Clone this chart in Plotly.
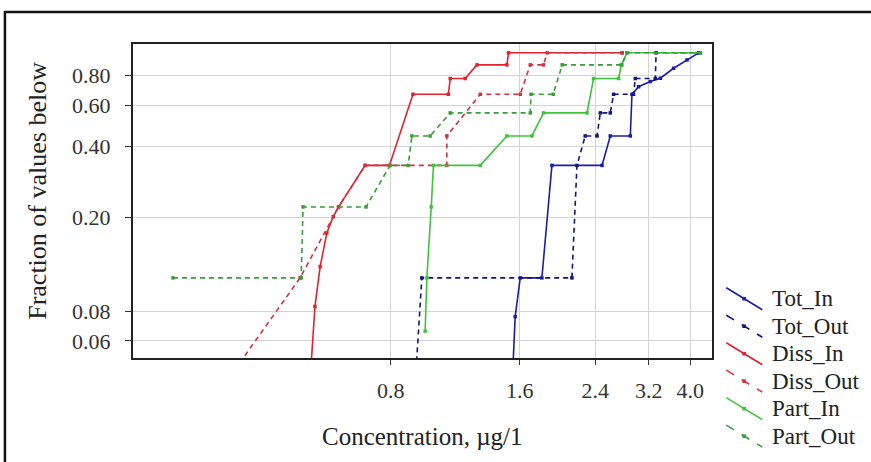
import plotly.graph_objects as go

# ---- data ----
tot_in_x = [1.541, 1.561, 1.604, 1.802, 1.902, 2.49, 2.603, 2.899, 2.925, 3.031, 3.228, 3.406, 3.659, 3.933, 4.186]
tot_in_y = [0.045, 0.076, 0.111, 0.111, 0.333, 0.333, 0.444, 0.444, 0.667, 0.718, 0.755, 0.78, 0.86, 0.933, 1.0]

tot_out_x = [0.916, 0.945, 2.118, 2.176, 2.275, 2.424, 2.467, 2.603, 2.65, 2.95, 2.978, 3.316, 3.33, 4.186]
tot_out_y = [0.045, 0.111, 0.111, 0.333, 0.444, 0.444, 0.556, 0.556, 0.667, 0.667, 0.778, 0.778, 1.0, 1.0]

diss_in_x = [0.520, 0.532, 0.547, 0.567, 0.587, 0.604, 0.697, 0.794, 0.901, 1.090, 1.101, 1.193, 1.271, 1.493, 1.506, 2.776]
diss_in_y = [0.045, 0.084, 0.124, 0.172, 0.202, 0.222, 0.333, 0.333, 0.667, 0.667, 0.778, 0.778, 0.889, 0.889, 1.0, 1.0]

diss_out_x = [0.345, 0.491, 0.604, 0.697, 1.081, 1.081, 1.294, 1.604, 1.693, 1.818, 1.854, 2.776]
diss_out_y = [0.045, 0.111, 0.222, 0.333, 0.333, 0.444, 0.667, 0.667, 0.889, 0.889, 1.0, 1.0]

part_in_x = [0.962, 0.971, 0.994, 1.006, 1.294, 1.493, 1.708, 1.818, 2.297, 2.379, 2.722, 2.762, 2.847, 4.225]
part_in_y = [0.066, 0.111, 0.222, 0.333, 0.333, 0.444, 0.444, 0.556, 0.556, 0.778, 0.778, 0.889, 1.0, 1.0]

part_out_x = [0.248, 0.494, 0.499, 0.700, 0.797, 0.878, 0.896, 0.988, 1.101, 1.693, 1.70, 1.915, 2.010, 2.77, 2.847, 4.225]
part_out_y = [0.111, 0.111, 0.222, 0.222, 0.333, 0.333, 0.444, 0.444, 0.556, 0.556, 0.667, 0.667, 0.889, 0.889, 1.0, 1.0]

x_ticks = [0.8, 1.6, 2.4, 3.2, 4.0]
x_tick_text = ["0.8", "1.6", "2.4", "3.2", "4.0"]
y_ticks = [0.06, 0.08, 0.2, 0.4, 0.6, 0.8]
y_tick_text = ["0.06", "0.08", "0.20", "0.40", "0.60", "0.80"]

series_names = ["Tot_In", "Tot_Out", "Diss_In", "Diss_Out", "Part_In", "Part_Out"]
series_x = [tot_in_x, tot_out_x, diss_in_x, diss_out_x, part_in_x, part_out_x]
series_y = [tot_in_y, tot_out_y, diss_in_y, diss_out_y, part_in_y, part_out_y]
series_color = ["#1c1ca8", "#14147a", "#e2232f", "#cf3344", "#3fc23f", "#3a9c3a"]
series_dash = ["solid", "5px,4px", "solid", "5px,4px", "solid", "5px,4px"]

FONT = "Liberation Serif, Times New Roman, serif"

fig = go.Figure()
for n, xs, ys, c, d in zip(series_names, series_x, series_y, series_color, series_dash):
    fig.add_trace(go.Scatter(
        x=xs, y=ys, name=n, mode="lines+markers",
        line=dict(color=c, width=1.6, dash=d),
        marker=dict(symbol="square", size=3.5, color=c),
        showlegend=False, cliponaxis=True,
    ))

fig.update_layout(
    width=871, height=462,
    margin=dict(l=133, r=159, t=44, b=104),
    paper_bgcolor="white", plot_bgcolor="white",
    font=dict(family=FONT, size=22, color="#222"),
    showlegend=False,
)
fig.update_xaxes(
    type="log", range=[-0.699, 0.653],
    tickvals=x_ticks, ticktext=x_tick_text,
    ticks="outside", ticklen=5, tickcolor="#333", tickwidth=1,
    ticklabelstandoff=7,
    showgrid=True, gridcolor="#d4d4d4", gridwidth=1,
    showline=True, linecolor="#222", linewidth=2, mirror=True,
    zeroline=False, tickfont=dict(family=FONT, size=22, color="#333"),
)
fig.update_yaxes(
    type="log", range=[-1.2944, 0.0374],
    tickvals=y_ticks, ticktext=y_tick_text,
    ticks="outside", ticklen=6, tickcolor="#333", tickwidth=1,
    ticklabelstandoff=10,
    showgrid=True, gridcolor="#d4d4d4", gridwidth=1,
    showline=True, linecolor="#222", linewidth=2, mirror=True,
    zeroline=False, tickfont=dict(family=FONT, size=22, color="#333"),
)

W, H = 578.7, 314.3
def px(xp):
    return (xp - 133) / W
def py(yp):
    return (358.3 - yp) / H

shapes = []
annotations = []
# outer frame
shapes.append(dict(type="rect", xref="paper", yref="paper",
                   x0=px(5), y0=py(12), x1=px(900), y1=py(490),
                   line=dict(color="#111", width=2.5), fillcolor="rgba(0,0,0,0)", layer="above"))

# axis titles
annotations.append(dict(text="Concentration, \u00b5g/1", xref="paper", yref="paper",
                        x=px(421.5), y=py(437), xanchor="center", yanchor="middle",
                        showarrow=False, font=dict(family=FONT, size=25, color="#222")))
annotations.append(dict(text="Fraction of values below", xref="paper", yref="paper",
                        x=px(38), y=py(191), xanchor="center", yanchor="middle", textangle=-90,
                        showarrow=False, font=dict(family=FONT, size=26, color="#222")))

# custom legend with diagonal symbols
leg_y = [299, 326.5, 354, 381.5, 409, 436.5]
for n, c, d, yc in zip(series_names, series_color, series_dash, leg_y):
    shapes.append(dict(type="line", xref="paper", yref="paper",
                       x0=px(726), y0=py(yc - 11), x1=px(762), y1=py(yc + 11),
                       line=dict(color=c, width=1.6, dash="dash" if d != "solid" else "solid")))
    shapes.append(dict(type="rect", xref="paper", yref="paper",
                       x0=px(742), y0=py(yc - 1.8), x1=px(745.6), y1=py(yc + 1.8),
                       line=dict(width=0), fillcolor=c))
    annotations.append(dict(text=n, xref="paper", yref="paper",
                            x=px(770), y=py(yc), xanchor="left", yanchor="middle",
                            showarrow=False, font=dict(family=FONT, size=23, color="#222")))

fig.update_layout(shapes=shapes, annotations=annotations)
fig.write_html("out.html", config={"displayModeBar": False},
               post_script="document.body.style.margin='0px';document.body.style.overflow='hidden';")
